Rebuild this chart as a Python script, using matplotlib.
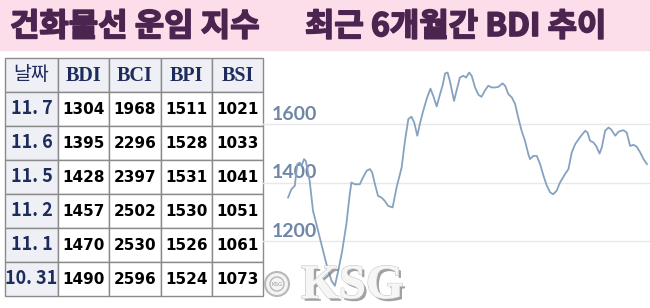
import matplotlib
matplotlib.use("Agg")
import matplotlib.pyplot as plt
import matplotlib.patheffects as pe
from matplotlib.patches import Rectangle, Circle

# -----------------------------
# Data
# -----------------------------

title_left = "건화물선 운임 지수"
title_right = "최근 6개월간 BDI 추이"

table_header = ["날짜", "BDI", "BCI", "BPI", "BSI"]
dates = ["11. 7", "11. 6", "11. 5", "11. 2", "11. 1", "10. 31"]
bdi = [1304, 1395, 1428, 1457, 1470, 1490]
bci = [1968, 2296, 2397, 2502, 2530, 2596]
bpi = [1511, 1528, 1531, 1530, 1526, 1524]
bsi = [1021, 1033, 1041, 1051, 1061, 1073]

# BDI line, last ~6 months (trading day index, index value)
days = [0.0, 1.2, 2.4, 3.3, 4.2, 4.8, 5.7, 6.3, 6.9, 7.7, 8.9, 10.1, 11.9, 13.7,
        15.5, 16.7, 17.9, 19.3, 20.8, 22.0, 22.6, 23.8, 25.6, 26.4, 28.0, 29.2,
        30.0, 31.0, 32.1, 33.3, 34.5, 35.7, 37.3, 38.7, 40.5, 41.7, 42.9, 44.0,
        45.0, 46.1, 47.0, 48.2, 49.6, 50.8, 51.8, 53.0, 54.2, 55.1, 56.0, 56.9,
        57.7, 59.2, 60.1, 61.3, 62.5, 63.5, 64.6, 65.5, 66.7, 67.9, 69.0, 70.2,
        71.4, 72.6, 73.8, 75.0, 76.5, 77.4, 78.6, 79.8, 81.0, 82.1, 83.3, 84.5,
        85.7, 86.3, 87.5, 88.7, 89.9, 91.1, 92.3, 93.5, 94.6, 95.8, 97.0, 98.8,
        100.0, 101.2, 102.4, 104.2, 106.0, 106.8, 107.7, 108.9, 109.9, 111.1,
        111.9, 113.1, 114.3, 115.2, 116.7, 117.9, 119.6, 120.8, 122.0, 123.2,
        124.4, 125.6, 126.8, 128.0]
bdi_line = [1349, 1377, 1389, 1463, 1468, 1457, 1480, 1474, 1446, 1406, 1303, 1258,
            1189, 1121, 1064, 1047, 1098, 1166, 1258, 1360, 1400, 1394, 1394, 1411,
            1440, 1446, 1434, 1394, 1354, 1349, 1337, 1320, 1315, 1383, 1451, 1543,
            1617, 1625, 1605, 1560, 1600, 1645, 1691, 1721, 1696, 1660, 1702, 1731,
            1773, 1776, 1748, 1679, 1714, 1759, 1765, 1759, 1776, 1765, 1725, 1700,
            1693, 1714, 1731, 1725, 1725, 1727, 1739, 1731, 1702, 1691, 1668, 1622,
            1577, 1543, 1497, 1480, 1491, 1491, 1463, 1423, 1389, 1366, 1360, 1372,
            1400, 1429, 1446, 1503, 1531, 1556, 1577, 1571, 1543, 1537, 1525, 1499,
            1520, 1577, 1588, 1582, 1560, 1574, 1579, 1571, 1525, 1529, 1522, 1503,
            1480, 1463]
y_ticks = [1200, 1400, 1600]

# -----------------------------
# Figure
# -----------------------------

fig = plt.figure(figsize=(6.5, 3.08), dpi=100)
fig.patch.set_facecolor("white")

# pixel-space background layer
bg = fig.add_axes([0, 0, 1, 1])
bg.set_xlim(0, 650)
bg.set_ylim(308, 0)
bg.axis("off")

bg.add_patch(Rectangle((0, 0), 650, 50, color="#fbdeea", zorder=0))
kfont = ["Noto Sans CJK KR", "DejaVu Sans"]
title_fx = [pe.withStroke(linewidth=1.2, foreground="#4b2450")]
bg.text(10, 27, title_left, family=kfont, fontsize=23, weight="bold",
        color="#4b2450", va="center", ha="left", path_effects=title_fx)
bg.text(305, 27, title_right, family=kfont, fontsize=23, weight="bold",
        color="#4b2450", va="center", ha="left", path_effects=title_fx)

# table
col_x = [5, 58, 109, 161, 212, 263]
row_h = 34
top = 58
head_color = "#1e2c5c"
cols = [bdi, bci, bpi, bsi]
n_rows = len(dates) + 1
for r in range(n_rows):
    for c in range(len(col_x) - 1):
        x0, x1 = col_x[c], col_x[c + 1]
        y0 = top + r * row_h
        fc = "#eef0f5" if (r == 0 or c == 0) else "white"
        bg.add_patch(Rectangle((x0, y0), x1 - x0, row_h, facecolor=fc,
                               edgecolor="#8a8a8a", linewidth=1.0, zorder=2))
        cx, cy = (x0 + x1) / 2, y0 + row_h / 2
        if r == 0:
            if c == 0:
                bg.text(cx, cy, table_header[c], family=kfont, fontsize=14,
                        color=head_color, ha="center", va="center", zorder=3)
            else:
                bg.text(cx, cy + 1, table_header[c], family="Liberation Serif",
                        fontsize=14.5, weight="bold", color=head_color,
                        ha="center", va="center", zorder=3)
        elif c == 0:
            bg.text(cx, cy, dates[r - 1], family=kfont, fontsize=13,
                    weight="bold", color=head_color, ha="center", va="center",
                    zorder=3)
        else:
            bg.text(cx, cy, str(cols[c - 1][r - 1]), family="DejaVu Sans",
                    fontsize=11, weight="bold", color="black", ha="center",
                    va="center", zorder=3)

# -----------------------------
# Line chart
# -----------------------------

ax = fig.add_axes([262 / 650, 0, 388 / 650, 253 / 308])
ax.set_facecolor("none")
ax.plot(days, bdi_line, color="#86a2c0", linewidth=1.3, zorder=3)
ax.set_xlim(-9.3, 129.1)
ax.set_ylim(971, 1836)
for v in y_ticks:
    ax.axhline(v, color="#e6e8ec", linewidth=1.0, zorder=1)
    ax.text(0.025, v + 5, str(v), transform=ax.get_yaxis_transform(),
            family="Lato", fontsize=14, weight="bold", color="#7086a8",
            ha="left", va="bottom", zorder=2)
ax.set_xticks([])
ax.set_yticks([])
for s in ax.spines.values():
    s.set_visible(False)

# KSG watermark
wm = fig.add_axes([0, 0, 1, 1])
wm.set_xlim(0, 650)
wm.set_ylim(308, 0)
wm.axis("off")
wm.add_patch(Circle((277, 284), 12, facecolor="#f4f4f4", edgecolor="#b8b8b8",
                    linewidth=1.5, zorder=5))
wm.add_patch(Circle((277, 284), 7, facecolor="none", edgecolor="#b8b8b8",
                    linewidth=1.0, zorder=6))
wm.text(277, 284, "KSG", fontsize=4, color="#999999", ha="center",
        va="center", zorder=6)
wm.text(301, 298, "KSG", family="Liberation Serif", fontsize=35, weight="bold",
        color="#f6f6f6", ha="left", va="baseline", zorder=6,
        path_effects=[pe.withSimplePatchShadow(offset=(2, -2),
                                               shadow_rgbFace="#7a7a7a",
                                               alpha=0.7),
                      pe.withStroke(linewidth=1.0, foreground="#c8c8c8"),
                      pe.Normal()])

fig.savefig("out.png", dpi=100)
